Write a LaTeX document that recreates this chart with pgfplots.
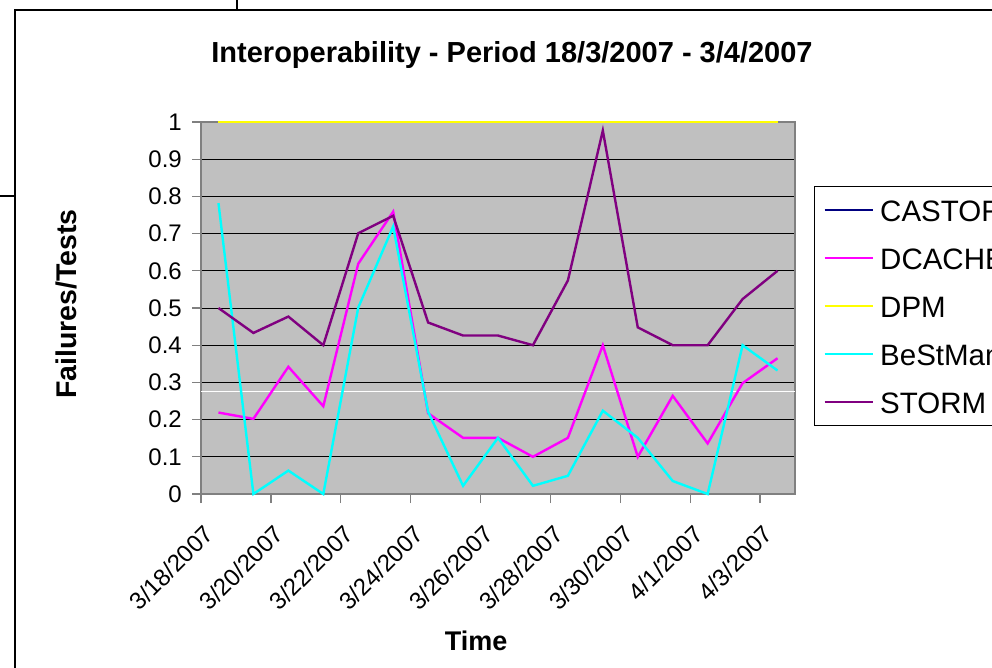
\documentclass[border=0pt]{standalone}
\usepackage{fontspec}
\setmainfont{Liberation Sans}
\usepackage{pgfplots}
\pgfplotsset{compat=1.18}
\definecolor{plotgray}{RGB}{192,192,192}
\definecolor{bordergray}{RGB}{128,128,128}
\definecolor{castor}{RGB}{0,0,128}
\definecolor{dcache}{RGB}{255,0,255}
\definecolor{dpm}{RGB}{255,255,0}
\definecolor{bestman}{RGB}{0,255,255}
\definecolor{storm}{RGB}{128,0,128}
\begin{document}
\begin{tikzpicture}[x=1pt,y=1pt]
\useasboundingbox (0,0) rectangle (992,-667);
\clip (0,0) rectangle (992,-667);
\fill[white] (0,0) rectangle (992,-667);
\draw[line width=2pt] (15,-680) -- (15,-10) -- (1000,-10);
\draw[line width=2pt] (0,-196) -- (15,-196);
\draw[line width=2pt] (237,0) -- (237,-10);
\begin{axis}[
  at={(201pt,-494pt)}, anchor=south west,
  width=594pt, height=372pt, scale only axis,
  xmin=-0.5, xmax=16.5, ymin=0, ymax=1,
  clip=false,
  axis background/.style={fill=plotgray},
  axis line style={draw=bordergray, line width=1.5pt},
  tick align=outside, xtick pos=bottom, ytick pos=left,
  major tick length=9pt,
  tick style={draw=bordergray, line width=1.3pt},
  xtick={-0.5,1.5,3.5,5.5,7.5,9.5,11.5,13.5,15.5},
  xticklabels={3/18/2007,3/20/2007,3/22/2007,3/24/2007,3/26/2007,3/28/2007,3/30/2007,4/1/2007,4/3/2007},
  ytick={0,0.1,0.2,0.3,0.4,0.5,0.6,0.7,0.8,0.9,1},
  yticklabels={0,0.1,0.2,0.3,0.4,0.5,0.6,0.7,0.8,0.9,1},
  ymajorgrids,
  major grid style={black, line width=0.9pt},
  tick label style={font=\fontsize{24}{28}\selectfont},
  /pgf/number format/assume math mode=true,
  yticklabel style={anchor=east, inner sep=0pt, xshift=-10pt},
  xticklabel style={xshift=2pt, yshift=-20.5pt, rotate=45, anchor=north east, inner sep=0pt},
  title={Interoperability - Period 18/3/2007 - 3/4/2007},
  title style={at={(axis description cs:0.5236,1.1425)}, anchor=base, font=\bfseries\fontsize{29}{34}\selectfont, inner sep=0pt},
  xlabel={Time},
  xlabel style={at={(axis description cs:0.463,-0.4194)}, anchor=base, font=\bfseries\fontsize{27}{32}\selectfont, inner sep=0pt},
  ylabel={Failures/Tests},
  ylabel style={at={(axis description cs:-0.2093,0.5108)}, anchor=base, font=\bfseries\fontsize{28.5}{33}\selectfont, inner sep=0pt},
  legend style={at={(axis description cs:1.032,0.828)}, anchor=north west, draw=black, line width=1pt, fill=white,
    font=\fontsize{29.5}{34}\selectfont, inner xsep=9pt, inner ysep=12pt, row sep=24.5pt, column sep=6.5pt,
    nodes={inner sep=0pt, text height=23.5pt, text depth=0pt}},
  legend cell align=left,
  legend image code/.code={\draw[#1, line width=2.2pt] (0pt,0pt) -- (48pt,0pt);},
  every axis plot/.append style={line width=2.4pt},
]
\addplot[white, line width=1pt, forget plot] coordinates {(-0.5,0.275) (16.5,0.275)};
\addplot[castor] coordinates {(0,1)(1,1)(2,1)(3,1)(4,1)(5,1)(6,1)(7,1)(8,1)(9,1)(10,1)(11,1)(12,1)(13,1)(14,1)(15,1)(16,1)};
\addlegendentry{CASTOR}
\addplot[dcache] coordinates {(0,0.219)(1,0.202)(2,0.342)(3,0.236)(4,0.619)(5,0.759)(6,0.217)(7,0.151)(8,0.151)(9,0.100)(10,0.151)(11,0.400)(12,0.100)(13,0.264)(14,0.136)(15,0.298)(16,0.365)};
\addlegendentry{DCACHE}
\addplot[dpm] coordinates {(0,1)(1,1)(2,1)(3,1)(4,1)(5,1)(6,1)(7,1)(8,1)(9,1)(10,1)(11,1)(12,1)(13,1)(14,1)(15,1)(16,1)};
\addlegendentry{DPM}
\addplot[bestman] coordinates {(0,0.782)(1,0)(2,0.063)(3,0)(4,0.501)(5,0.719)(6,0.221)(7,0.022)(8,0.151)(9,0.022)(10,0.049)(11,0.224)(12,0.151)(13,0.035)(14,0)(15,0.400)(16,0.332)};
\addlegendentry{BeStMan}
\addplot[storm] coordinates {(0,0.500)(1,0.433)(2,0.477)(3,0.400)(4,0.701)(5,0.748)(6,0.461)(7,0.426)(8,0.426)(9,0.400)(10,0.574)(11,0.977)(12,0.448)(13,0.400)(14,0.400)(15,0.524)(16,0.600)};
\addlegendentry{STORM}
\end{axis}
\end{tikzpicture}
\end{document}
